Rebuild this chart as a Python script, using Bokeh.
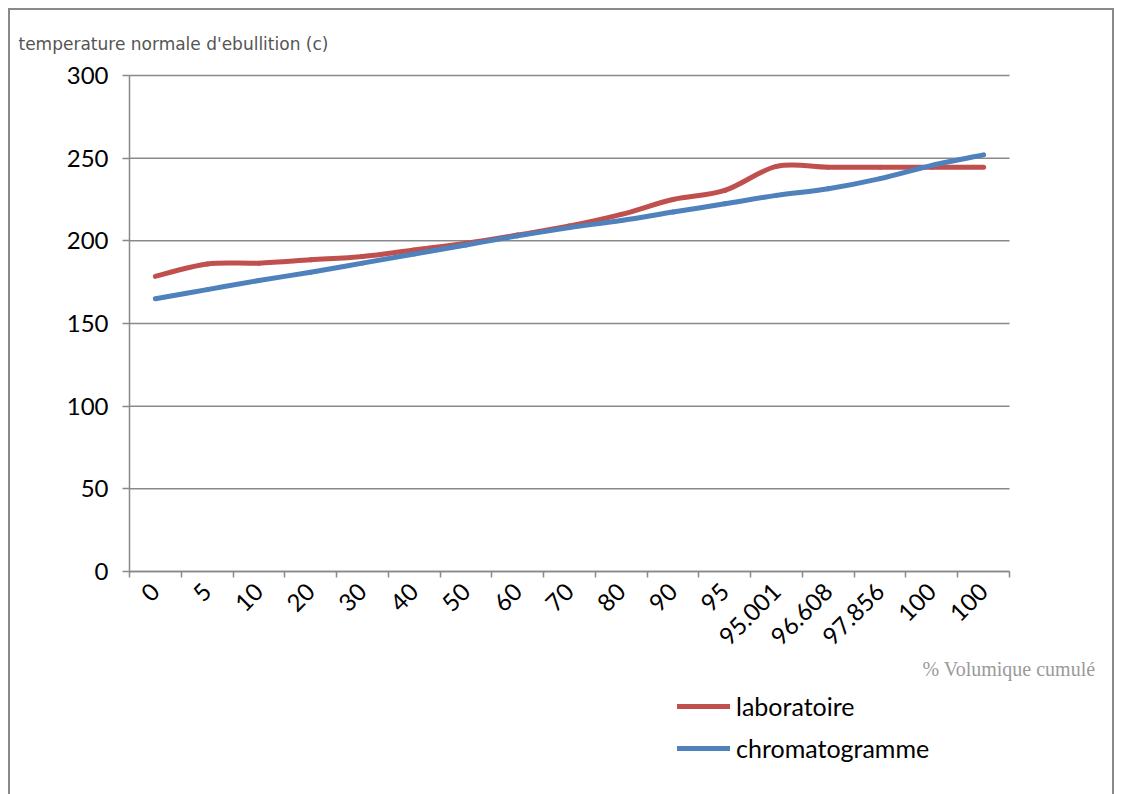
import math
import numpy as np
from bokeh.plotting import figure
from bokeh.models import (FixedTicker, LinearAxis, CustomJSTickFormatter, Label,
                          Legend, LegendItem, Range1d, ColumnDataSource)
from bokeh.embed import file_html
from bokeh.resources import INLINE

# % volume cumulé (category labels)
volume_labels = ["0", "5", "10", "20", "30", "40", "50", "60", "70", "80", "90",
                 "95", "95.001", "96.608", "97.856", "100", "100"]
# boiling temperatures (°C)
laboratoire = [178.5, 186, 186.5, 188.5, 190.5, 194.5, 198.5, 203.5, 209, 216,
               225, 230.5, 245, 244.5, 244.5, 244.5, 244.5]
chromatogramme = [165, 170.5, 176, 181, 186.5, 192, 197.5, 203, 208, 212.3,
                  217.4, 222.4, 227.5, 231.5, 237.6, 245.6, 252]
y_ticks = [0, 50, 100, 150, 200, 250, 300]

FONT = "Lato"
GRAY = "#898989"
RED = "#C0504D"
BLUE = "#4F81BD"

W, H = 1121, 794
PLOT_L, PLOT_R, PLOT_T, PLOT_B = 129, 1009, 75, 571   # plot area in pixels

n = len(volume_labels)
centers = np.arange(n) + 0.5
y_max = y_ticks[-1]

# the frame fills the whole canvas; ranges are widened so that the
# category/value area lands on the plot-area rectangle
sx = (PLOT_R - PLOT_L) / n
sy = (PLOT_B - PLOT_T) / y_max
x_range = Range1d(-PLOT_L / sx, n + (W - PLOT_R) / sx)
y_range = Range1d(-(H - PLOT_B) / sy, y_max + PLOT_T / sy)


def px_x(px):
    return (px - PLOT_L) / sx


def px_y(py):
    return (PLOT_B - py) / sy


def smooth_segments(xs, ys):
    """Cubic Bezier pieces (Catmull-Rom style) passing through every point."""
    pts = np.column_stack([xs, ys]).astype(float)
    padded = np.vstack([pts[0], pts, pts[-1]])
    p0, p1, p2, p3 = padded[:-3], padded[1:-2], padded[2:-1], padded[3:]
    c0 = p1 + (p2 - p0) / 6.0
    c1 = p2 - (p3 - p1) / 6.0
    return ColumnDataSource(dict(x0=p1[:, 0], y0=p1[:, 1], x1=p2[:, 0], y1=p2[:, 1],
                                 cx0=c0[:, 0], cy0=c0[:, 1], cx1=c1[:, 0], cy1=c1[:, 1]))


p = figure(width=W, height=H, x_range=x_range, y_range=y_range,
           output_backend="svg", toolbar_location=None,
           x_axis_type=None, y_axis_type=None, min_border=0)
p.outline_line_color = None
p.background_fill_alpha = 0
p.border_fill_alpha = 0
# thin frame around the whole chart area (left, top and right edges)
p.styles = {
    "background": (f"linear-gradient({GRAY},{GRAY}) 8px 8px / 1106px 2px no-repeat, "
                   f"linear-gradient({GRAY},{GRAY}) 8px 8px / 2px 790px no-repeat, "
                   f"linear-gradient({GRAY},{GRAY}) 1112px 8px / 2px 790px no-repeat, white"),
}

# horizontal gridlines across the plot area
p.segment(x0=0, x1=n, y0=y_ticks, y1=y_ticks, line_color=GRAY, line_width=1.5)

# value axis
y_axis = LinearAxis(ticker=FixedTicker(ticks=y_ticks), fixed_location=0,
                    bounds=(0, y_max),
                    axis_line_color=GRAY, axis_line_width=1.5,
                    major_tick_line_color=GRAY, major_tick_line_width=1.5,
                    major_tick_out=7, major_tick_in=0,
                    minor_tick_line_color=None,
                    major_label_text_font=FONT, major_label_text_font_size="24px",
                    major_label_text_color="black", major_label_standoff=14)
p.add_layout(y_axis, "left")

# category axis: tick marks between categories
x_tick_axis = LinearAxis(ticker=FixedTicker(ticks=list(range(n + 1))),
                         fixed_location=0, bounds=(0, n),
                         formatter=CustomJSTickFormatter(code="return ''"),
                         axis_line_color=GRAY, axis_line_width=1.5,
                         major_tick_line_color=GRAY, major_tick_line_width=1.5,
                         major_tick_out=6, major_tick_in=0,
                         minor_tick_line_color=None, major_label_standoff=0)
p.add_layout(x_tick_axis, "below")

# category axis: slanted labels at category centres
x_label_axis = LinearAxis(ticker=FixedTicker(ticks=list(centers)), fixed_location=0,
                          formatter=CustomJSTickFormatter(args=dict(labels=volume_labels),
                                                          code="return labels[Math.floor(tick)]"),
                          axis_line_color=None, major_tick_line_color=None,
                          major_tick_out=0, major_tick_in=0,
                          minor_tick_line_color=None,
                          major_label_orientation=math.pi / 4,
                          major_label_text_font=FONT, major_label_text_font_size="24px",
                          major_label_text_color="black", major_label_standoff=16)
p.add_layout(x_label_axis, "below")

r_lab = p.bezier(x0="x0", y0="y0", x1="x1", y1="y1", cx0="cx0", cy0="cy0",
                 cx1="cx1", cy1="cy1", source=smooth_segments(centers, laboratoire),
                 line_color=RED, line_width=5, line_cap="round")
r_chr = p.bezier(x0="x0", y0="y0", x1="x1", y1="y1", cx0="cx0", cy0="cy0",
                 cx1="cx1", cy1="cy1", source=smooth_segments(centers, chromatogramme),
                 line_color=BLUE, line_width=5, line_cap="round")

# axis titles
p.add_layout(Label(x=px_x(18), y=px_y(43), text="temperature normale d'ebullition (c)",
                   text_font="DejaVu Sans", text_font_size="17px",
                   text_color="#555555", text_baseline="middle"))
p.add_layout(Label(x=px_x(922), y=px_y(668), text="% Volumique cumulé",
                   text_font="Liberation Serif", text_font_size="20px",
                   text_color="#9a9a9a", text_baseline="middle"))

legend = Legend(items=[LegendItem(label="laboratoire", renderers=[r_lab]),
                       LegendItem(label="chromatogramme", renderers=[r_chr])],
                location=(677, H - 763), glyph_width=53, glyph_height=30, spacing=12,
                label_standoff=6, padding=0, margin=0,
                border_line_color=None, background_fill_alpha=0,
                label_text_font=FONT, label_text_font_size="25px",
                label_text_color="black")
p.add_layout(legend)

open("out.html", "w").write(file_html(p, INLINE))
